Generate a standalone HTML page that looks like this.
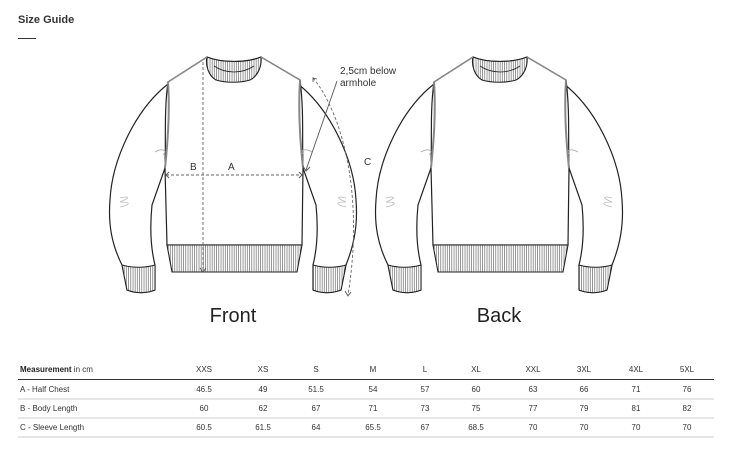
<!DOCTYPE html>
<html><head><meta charset="utf-8"><style>
body{margin:0;background:#fff;width:731px;height:457px;overflow:hidden;font-family:"Liberation Sans",sans-serif;color:#222}
.t{position:absolute}
</style></head><body>
<div class="t" style="left:18px;top:14px;font-size:11px;font-weight:bold;color:#333">Size Guide</div>
<div class="t" style="left:18px;top:38px;width:18px;height:1px;background:#333"></div>
<svg class="t" style="left:0;top:0" width="731" height="350" viewBox="0 0 731 350">
<defs>
<pattern id="rib" width="2.2" height="10" patternUnits="userSpaceOnUse"><rect width="2.2" height="10" fill="#fff"/><line x1="1" y1="0" x2="1" y2="10" stroke="#555" stroke-width="0.6"/></pattern>
<g id="sw">
<path d="M168,84 C135,110 112,160 110,200 C108,225 112,245 122,265 L127,290 C137,294 148,293 155,290 L155,265 C150,245 150,225 152,205 L165,168 Z" fill="#fff" stroke="#222" stroke-width="1.2"/>
<path d="M298,84 C331,110 354,160 356,200 C358,225 354,245 346,265 L341,290 C331,294 320,293 313,290 L313,265 C318,245 318,225 316,205 L303,168 Z" fill="#fff" stroke="#222" stroke-width="1.2"/>
<path d="M122,265 C132,268 145,268 155,265 L155,290 C148,293 137,294 127,290 Z" fill="url(#rib)" stroke="#222" stroke-width="1"/>
<path d="M346,265 C336,268 323,268 313,265 L313,290 C320,293 331,294 341,290 Z" fill="url(#rib)" stroke="#222" stroke-width="1"/>
<path d="M207,57 C222,63 246,63 261,57 L300,80 C304,110 302,140 303,168 L302,245 L167,245 L165,168 C166,140 164,110 168,82 Z" fill="#fff" stroke="#222" stroke-width="1.2"/>
<path d="M167,245 L302,245 L297,272 L172,272 Z" fill="url(#rib)" stroke="#222" stroke-width="1.1"/>
<path d="M207,57 C222,63 246,63 261,57 C262,66 258,76 250,80 C240,83 226,83 216,80 C209,76 205,66 207,57 Z" fill="url(#rib)" stroke="#222" stroke-width="1.1"/>
<path d="M214,66 C226,74 242,74 254,66" fill="none" stroke="#222" stroke-width="0.8"/>
<path d="M168,82 C170,110 168,140 165,168 M300,80 C298,110 300,140 303,168" fill="none" stroke="#888" stroke-width="2"/>
<path d="M207,57 L168,82 M261,57 L300,80" fill="none" stroke="#888" stroke-width="1.5"/>
<path d="M155,152 C162,148 168,150 163,155 M312,152 C305,148 299,150 304,155" fill="none" stroke="#aaa" stroke-width="0.8"/>
<path d="M120,198 C128,196 132,197 120,202 C130,202 132,204 120,207" fill="none" stroke="#bbb" stroke-width="0.8"/>
<path d="M346,198 C338,196 334,197 346,202 C336,202 334,204 346,207" fill="none" stroke="#bbb" stroke-width="0.8"/>
</g>
</defs>
<use href="#sw"/>
<use href="#sw" transform="translate(266,0)"/>
<g stroke="#666" stroke-width="0.9" stroke-dasharray="3,2" fill="none">
<line x1="203" y1="62" x2="203" y2="272"/>
<line x1="166" y1="175" x2="302" y2="175"/>
<path d="M313,78 C340,110 365,190 348,295"/>
</g>
<g stroke="#555" stroke-width="0.9" fill="none">
<line x1="337" y1="81" x2="306" y2="170"/>
<path d="M169,172 L166,175 L169,178 M299,172 L302,175 L299,178 M200,268 L203,272 L206,268 M313,82 L313,78 L317,79 M345,291 L348,296 L351,292 M303,166 L306,171 L310,167"/>
</g>
<g font-family="Liberation Sans,sans-serif" font-size="10" fill="#333">
<text x="190" y="170">B</text><text x="228" y="170">A</text><text x="364" y="165">C</text>
<text x="340" y="74">2,5cm below</text><text x="340" y="86">armhole</text>
</g>
<g font-family="Liberation Sans,sans-serif" font-size="20" fill="#222" text-anchor="middle">
<text x="233" y="322">Front</text><text x="499" y="322">Back</text>
</g>
</svg>
<svg class="t" style="left:0;top:355px" width="731" height="102">
<g font-family="Liberation Sans,sans-serif" font-size="8" fill="#333">
<text x="20" y="17"><tspan font-weight="bold" fill="#222">Measurement</tspan> in cm</text>
<text x="20" y="37">A - Half Chest</text>
<text x="20" y="56">B - Body Length</text>
<text x="20" y="75">C - Sleeve Length</text>
<g text-anchor="middle">
<text x="204" y="17">XXS</text><text x="263" y="17">XS</text><text x="316" y="17">S</text><text x="373" y="17">M</text><text x="425" y="17">L</text><text x="476" y="17">XL</text><text x="533" y="17">XXL</text><text x="584" y="17">3XL</text><text x="636" y="17">4XL</text><text x="687" y="17">5XL</text>
<text x="204" y="37">46.5</text><text x="263" y="37">49</text><text x="316" y="37">51.5</text><text x="373" y="37">54</text><text x="425" y="37">57</text><text x="476" y="37">60</text><text x="533" y="37">63</text><text x="584" y="37">66</text><text x="636" y="37">71</text><text x="687" y="37">76</text>
<text x="204" y="56">60</text><text x="263" y="56">62</text><text x="316" y="56">67</text><text x="373" y="56">71</text><text x="425" y="56">73</text><text x="476" y="56">75</text><text x="533" y="56">77</text><text x="584" y="56">79</text><text x="636" y="56">81</text><text x="687" y="56">82</text>
<text x="204" y="75">60.5</text><text x="263" y="75">61.5</text><text x="316" y="75">64</text><text x="373" y="75">65.5</text><text x="425" y="75">67</text><text x="476" y="75">68.5</text><text x="533" y="75">70</text><text x="584" y="75">70</text><text x="636" y="75">70</text><text x="687" y="75">70</text>
</g></g>
<line x1="18" y1="24.5" x2="714" y2="24.5" stroke="#333" stroke-width="1"/>
<line x1="18" y1="44" x2="714" y2="44" stroke="#ccc" stroke-width="1"/>
<line x1="18" y1="63" x2="714" y2="63" stroke="#ccc" stroke-width="1"/>
<line x1="18" y1="82" x2="714" y2="82" stroke="#ccc" stroke-width="1"/>
</svg>
</body></html>
